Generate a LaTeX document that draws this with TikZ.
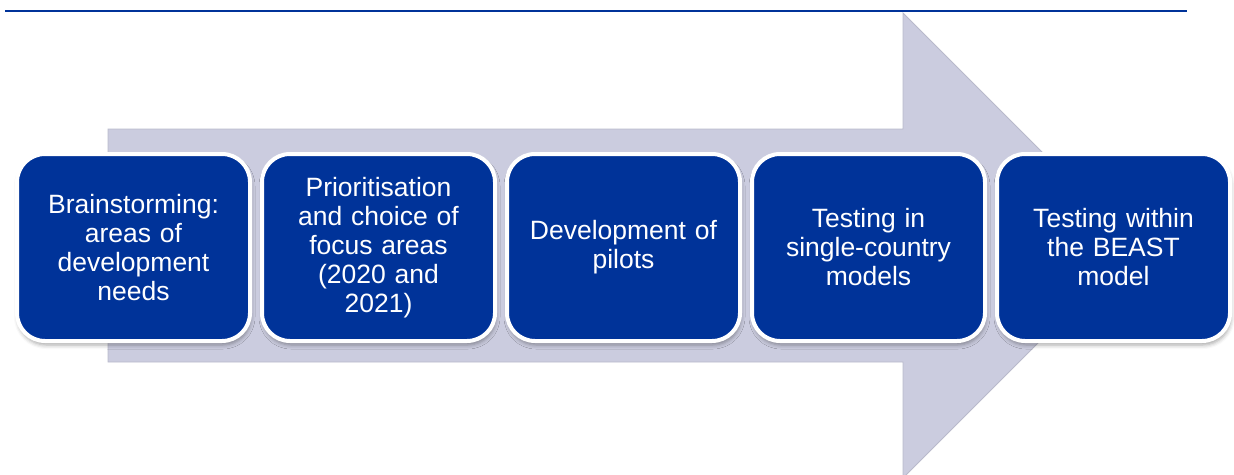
\documentclass[tikz,border=0pt]{standalone}
\usepackage{fontspec}
\setmainfont{Liberation Sans}
\usepackage{xcolor}
\definecolor{eunavy}{HTML}{003399}
\definecolor{lavender}{HTML}{CBCCDF}
\definecolor{lavedge}{HTML}{B9BACB}
\usepackage{tikz}
\usetikzlibrary{positioning, shadows.blur}
\tikzset{
  phasebox/.style={rectangle, rounded corners=28pt, draw=white, line width=4pt, fill=eunavy,
                   text=white, align=center, text width=215pt, minimum width=233pt, minimum height=187pt,
                   font=\fontsize{26.5}{29}\selectfont,
                   blur shadow={shadow xshift=1pt, shadow yshift=-4pt, shadow blur radius=4pt, shadow opacity=35}},
  bigarrow/.style={fill=lavender, draw=lavedge, line width=0.8pt},
  toprule/.style={draw=eunavy, line width=2pt},
}

\begin{document}
\begin{tikzpicture}[x=1pt, y=-1pt, node distance=8pt]
  \clip (0,0) rectangle (1234,474);
  % header rule
  \draw[toprule] (5,10.5) -- (1187,10.5);
  % background arrow
  \path[bigarrow] (108,129) -- (903,129) -- (903,13) -- (1135.5,245.5) -- (903,478)
                  -- (903,362) -- (108,362) -- cycle;
  % phases
  \node[phasebox] (p1) at (133.5,247.5) {Brainstorming:\\areas of\\development\\needs};
  \node[phasebox, right=of p1] (p2) {Prioritisation\\and choice of\\focus areas\\(2020 and\\2021)};
  \node[phasebox, right=of p2] (p3) {Development of\\pilots};
  \node[phasebox, right=of p3] (p4) {Testing in\\single-country\\models};
  \node[phasebox, right=of p4] (p5) {Testing within\\the BEAST\\model};
\end{tikzpicture}
\end{document}
